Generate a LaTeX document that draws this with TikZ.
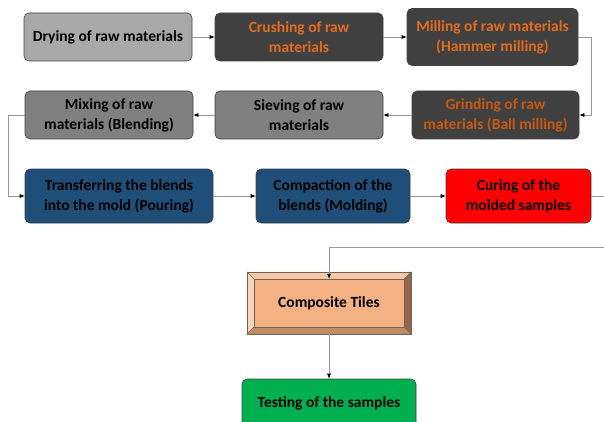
\documentclass[tikz,border=0pt]{standalone}
\usepackage{fontspec}
\setmainfont{Carlito}
\usetikzlibrary{arrows.meta}

\definecolor{lightbox}{HTML}{A9A9A9}
\definecolor{darkbox}{HTML}{404040}
\definecolor{midbox}{HTML}{808080}
\definecolor{bluebox}{HTML}{1F4E79}
\definecolor{redbox}{HTML}{FF0000}
\definecolor{greenbox}{HTML}{00B050}
\definecolor{orangetxt}{HTML}{E36C1E}
\definecolor{orangedim}{HTML}{C55A11}
\definecolor{tileface}{HTML}{F4B183}
\definecolor{tiletop}{HTML}{F7C6A3}
\definecolor{tileleft}{HTML}{FAD5BB}
\definecolor{tileright}{HTML}{956648}
\definecolor{tilebottom}{HTML}{C48A64}

\begin{document}
\begin{tikzpicture}[x=1pt, y=-1pt, >={Latex[length=5pt,width=4pt,black]},
    every node/.style={font=\bfseries\fontsize{15.5}{20}\selectfont, align=center},
    box/.style={draw=black!75, line width=0.6pt, rounded corners=5pt, inner sep=0pt, minimum height=48pt},
    flow/.style={draw=gray!80, line width=0.6pt, ->}]

\useasboundingbox (0,0) rectangle (604,422);
\clip (0,0) rectangle (604,422);

% Fila 1
\node[box, fill=lightbox, minimum width=168pt] (dry) at (108,37) {Drying of raw materials};
\node[box, fill=darkbox, text=orangetxt, minimum width=168pt] (crush) at (299,37) {Crushing of raw\\materials};
\node[box, fill=darkbox, text=orangetxt, minimum width=171pt, minimum height=57pt] (mill) at (492.5,37) {Milling of raw materials\\(Hammer milling)};

% Fila 2
\node[box, fill=darkbox, text=orangedim, minimum width=167pt] (grind) at (495.5,115) {Grinding of raw\\materials (Ball milling)};
\node[box, fill=midbox, minimum width=168pt] (sieve) at (299,115) {Sieving of raw\\materials};
\node[box, fill=midbox, minimum width=168pt] (mix) at (109,115) {Mixing of raw\\materials (Blending)};

% Fila 3
\node[box, fill=bluebox, minimum width=188pt, minimum height=54pt] (pour) at (119,196) {Transferring the blends\\into the mold (Pouring)};
\node[box, fill=bluebox, minimum width=154pt, minimum height=54pt] (mold) at (333,196) {Compaction of the\\blends (Molding)};
\node[box, fill=redbox, minimum width=145pt, minimum height=54pt] (cure) at (518.5,196) {Curing of the\\molded samples};

% Baldosa con bisel
\node[draw=gray!80!black, line width=0.5pt, fill=tileface, minimum width=150pt, minimum height=48pt, inner sep=0pt] (tiles) at (329,303) {Composite Tiles};
\coordinate (onw) at ([shift={(-7,-7)}]tiles.north west);
\coordinate (one) at ([shift={(7,-7)}]tiles.north east);
\coordinate (osw) at ([shift={(-7,7)}]tiles.south west);
\coordinate (ose) at ([shift={(7,7)}]tiles.south east);
\fill[tiletop] (onw) -- (one) -- (tiles.north east) -- (tiles.north west) -- cycle;
\fill[tileleft] (onw) -- (osw) -- (tiles.south west) -- (tiles.north west) -- cycle;
\fill[tileright] (one) -- (ose) -- (tiles.south east) -- (tiles.north east) -- cycle;
\fill[tilebottom] (osw) -- (ose) -- (tiles.south east) -- (tiles.south west) -- cycle;
\draw[gray!80!black, line width=0.5pt] (onw) rectangle (ose);
\draw[gray!80!black, line width=0.5pt] (tiles.north west) rectangle (tiles.south east);
\draw[gray!80!black, line width=0.5pt] (onw) -- (tiles.north west) (one) -- (tiles.north east)
    (osw) -- (tiles.south west) (ose) -- (tiles.south east);

\node[box, fill=greenbox, minimum width=174pt] (test) at (329,403) {Testing of the samples};

% Conectores
\draw[flow] (dry) -- (crush);
\draw[flow] (crush) -- (mill);
\draw[flow] (mill.east) -- ++(13,0) |- (grind.east);
\draw[flow] (grind) -- (sieve);
\draw[flow] (sieve) -- (mix);
\draw[flow] (mix.west) -- ++(-16,0) |- (pour.west);
\draw[flow] (pour) -- (mold);
\draw[flow] (mold) -- (cure);
\coordinate (turn) at (630,247);
\draw[flow] (cure.east) -| (turn) -- (turn -| tiles.north) -- (tiles.north);
\draw[flow] (ose -| tiles.south) -- (test);

\end{tikzpicture}
\end{document}
